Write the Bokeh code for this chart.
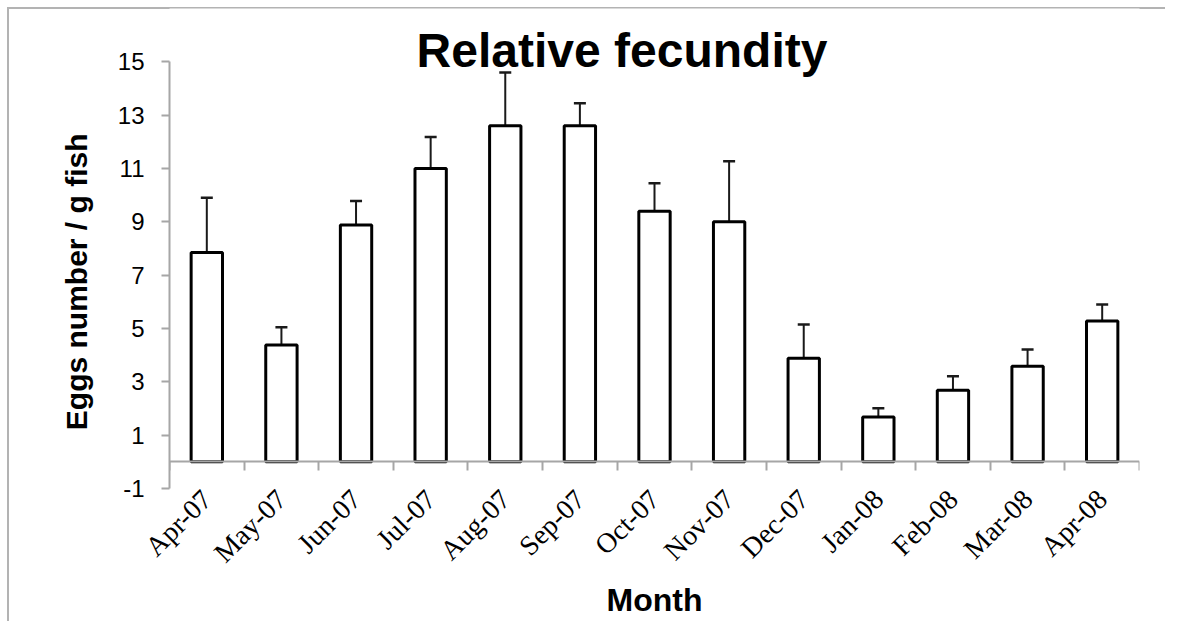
import math
from bokeh.plotting import figure
from bokeh.models import (ColumnDataSource, Whisker, TeeHead, Range1d,
                          LinearAxis, FixedTicker)
from bokeh.core.properties import value
from bokeh.embed import file_html
from bokeh.resources import INLINE

months = ["Apr-07", "May-07", "Jun-07", "Jul-07", "Aug-07", "Sep-07", "Oct-07",
          "Nov-07", "Dec-07", "Jan-08", "Feb-08", "Mar-08", "Apr-08"]
fecundity = [7.85, 4.38, 8.88, 11.0, 12.6, 12.6, 9.4, 9.0, 3.88, 1.68, 2.68, 3.58, 5.28]
std_err = [2.05, 0.67, 0.9, 1.18, 2.0, 0.85, 1.05, 2.27, 1.27, 0.33, 0.53, 0.63, 0.62]
y_ticks = [-1, 1, 3, 5, 7, 9, 11, 13, 15]
title_text = "Relative fecundity"
y_label = "Eggs number / g fish"

n = len(months)
centers = [i + 0.5 for i in range(n)]
boundaries = list(range(n + 1))
upper = [v + e for v, e in zip(fecundity, std_err)]
src = ColumnDataSource(dict(x=centers, month=months, value=fecundity, upper=upper))

AXIS_GRAY = "#a6a6a6"
FRAME_GRAY = "#b3b3b3"
Y_MIN, Y_MAX = y_ticks[0], y_ticks[-1]

# y range extends above the axis so the title can sit inside the frame;
# the y axis itself is bounded to [-1, 15]
p = figure(width=1165, height=621, output_backend="svg", toolbar_location=None,
           x_range=Range1d(0, n), y_range=Range1d(Y_MIN, Y_MAX + 2),
           min_border_left=169, min_border_right=26, min_border_top=8, min_border_bottom=131)
p.outline_line_color = None
p.xgrid.visible = False
p.ygrid.visible = False
p.background_fill_color = "white"
p.border_fill_color = "white"
p.border_fill_alpha = 0.0
grad = f"linear-gradient({FRAME_GRAY}, {FRAME_GRAY})"
p.styles = {"background-color": "white",
            "background-image": f"{grad}, {grad}",
            "background-size": "100% 2px, 2px 100%",
            "background-position": "7px 7px, 7px 7px",
            "background-repeat": "no-repeat"}

# bars
p.vbar(x="x", top="value", bottom=0, width=0.42, source=src,
       fill_color="white", line_color="black", line_width=3)

# error bars (upper only)
wh = Whisker(base="x", lower="value", upper="upper", source=src,
             line_color="#1a1a1a", line_width=2,
             upper_head=TeeHead(size=12, line_color="#1a1a1a", line_width=2.5),
             lower_head=None)
p.add_layout(wh)

# title
p.text(x=[n * 0.4665], y=[Y_MAX + 0.41], text=[title_text],
       text_align="center", text_baseline="alphabetic",
       text_font=value("Liberation Sans"), text_font_style="bold",
       text_font_size="48px", text_color="black")

# bottom axis: month labels only
xa = p.xaxis[0]
xa.ticker = FixedTicker(ticks=centers)
xa.major_label_overrides = {c: m for c, m in zip(centers, months)}
xa.axis_line_color = None
xa.major_tick_line_color = None
xa.major_tick_in = 0
xa.major_tick_out = 0
xa.minor_tick_line_color = None
xa.major_label_orientation = math.pi / 4
xa.major_label_text_font = "Liberation Serif"
xa.major_label_text_font_size = "28px"
xa.major_label_text_color = "black"
xa.major_label_standoff = 6
xa.axis_label = "Month"
xa.axis_label_text_font = "Liberation Sans"
xa.axis_label_text_font_style = "bold"
xa.axis_label_text_font_size = "32px"
xa.axis_label_text_color = "black"
xa.axis_label_standoff = 0

# zero line axis with ticks between categories (no labels)
zero_axis = LinearAxis(fixed_location=0,
                       ticker=FixedTicker(ticks=boundaries),
                       major_label_overrides={b: "" for b in boundaries},
                       axis_line_color=AXIS_GRAY, axis_line_width=2,
                       major_tick_line_color=AXIS_GRAY, major_tick_line_width=2,
                       major_tick_in=0, major_tick_out=9,
                       minor_tick_line_color=None)
p.add_layout(zero_axis, "below")

# y axis
ya = p.yaxis[0]
ya.bounds = (Y_MIN, Y_MAX)
ya.ticker = FixedTicker(ticks=y_ticks)
ya.major_label_overrides = {t: str(t) for t in y_ticks}
ya.axis_line_color = AXIS_GRAY
ya.axis_line_width = 2
ya.major_tick_line_color = AXIS_GRAY
ya.major_tick_line_width = 2
ya.major_tick_in = 0
ya.major_tick_out = 8
ya.minor_tick_line_color = None
ya.major_label_text_font = "Liberation Sans"
ya.major_label_text_font_size = "24px"
ya.major_label_text_color = "black"
ya.major_label_standoff = 17
# non-breaking spaces centre the rotated label on the bounded axis, not the taller frame
ya.axis_label = y_label + "\u00a0" * 8
ya.axis_label_text_font = "Liberation Sans"
ya.axis_label_text_font_style = "bold"
ya.axis_label_text_font_size = "30px"
ya.axis_label_text_color = "black"
ya.axis_label_standoff = 22

open("out.html", "w").write(file_html(p, INLINE))
